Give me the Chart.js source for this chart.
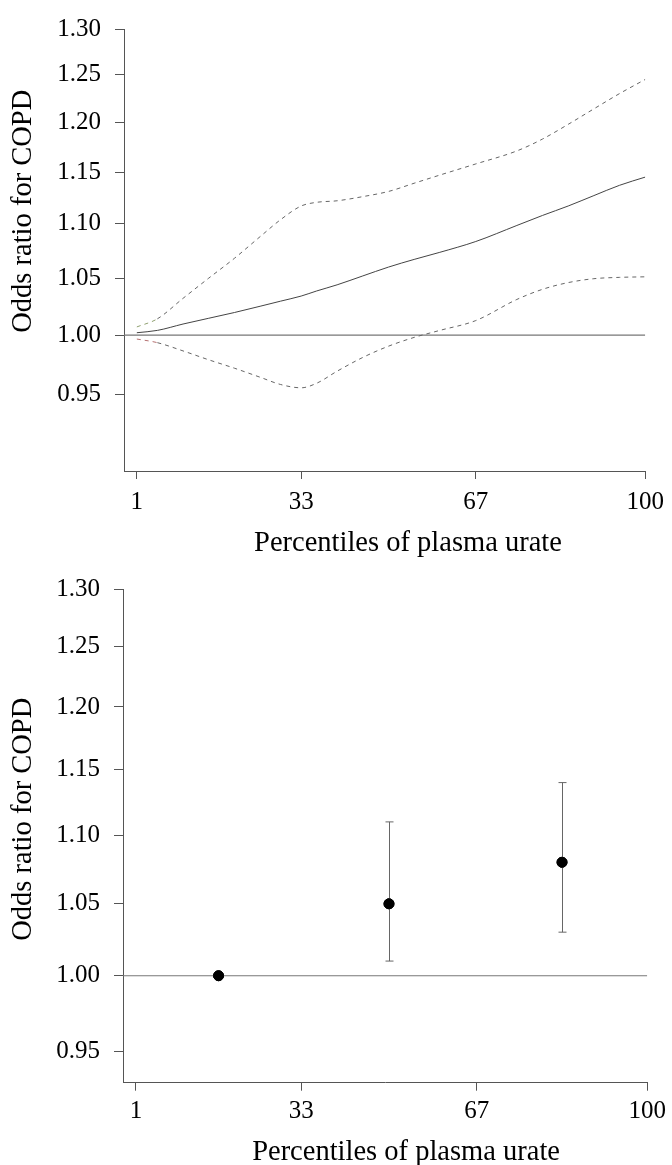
<!DOCTYPE html>
<html><head><meta charset="utf-8">
<script src="https://cdn.jsdelivr.net/npm/chart.js@4.4.1/dist/chart.umd.min.js"></script>
<style>
html,body{margin:0;padding:0;background:#fff;width:672px;height:1165px;overflow:hidden;}
#w1{position:absolute;left:0;top:0;width:672px;height:570px;}
#w2{position:absolute;left:0;top:560px;width:672px;height:605px;}
canvas{display:block;}
</style></head><body>
<div id="w1"><canvas id="c1" width="672" height="570"></canvas></div>
<div id="w2"><canvas id="c2" width="672" height="605"></canvas></div>
<script>
// ---- data ----
const percentiles = [1, 5, 10, 15, 20, 25, 29, 33, 36, 40, 45, 50, 55, 60, 67, 75, 80, 85, 90, 95, 100];
const orEstimate  = [1.002, 1.004, 1.0095, 1.0145, 1.0195, 1.025, 1.0295, 1.034, 1.0385, 1.044, 1.052, 1.060, 1.067, 1.0735, 1.0835, 1.0985, 1.108, 1.117, 1.127, 1.137, 1.145];
const orLower     = [0.9966, 0.9935, 0.9865, 0.979, 0.972, 0.9645, 0.9585, 0.9558, 0.9595, 0.9695, 0.981, 0.9905, 0.998, 1.004, 1.0125, 1.031, 1.040, 1.046, 1.0495, 1.0507, 1.0512];
const orUpper     = [1.007, 1.014, 1.032, 1.050, 1.068, 1.088, 1.104, 1.117, 1.1205, 1.122, 1.126, 1.131, 1.139, 1.147, 1.158, 1.171, 1.183, 1.198, 1.214, 1.230, 1.245];

const tertileMid  = [17, 50, 83.5];
const tertileOR   = [1.00, 1.05, 1.08];
const tertileLow  = [null, 1.01, 1.03];
const tertileHigh = [null, 1.11, 1.14];

const xTicks = [1, 33, 67, 100];
const xTickLabels = ['1', '33', '67', '100'];
const yTicks = [0.95, 1.00, 1.05, 1.10, 1.15, 1.20, 1.25, 1.30];
const yTickLabels = ['0.95', '1.00', '1.05', '1.10', '1.15', '1.20', '1.25', '1.30'];
const refValue = 1.00;
const xTitle = 'Percentiles of plasma urate';
const yTitle = 'Odds ratio for COPD';

// ---- helpers ----
const FAMILY = "'Liberation Serif', 'Times New Roman', Times, serif";
const AX = '#555';
const xMin = -1.5, xMax = 100;
const TICK_SIZE = 25, TITLE_SIZE = 28.5;

function xScaleCfg(height, pad) {
  return {
    type: 'linear', min: xMin, max: xMax, bounds: 'data',
    afterBuildTicks: s => { s.ticks = xTicks.map(v => ({ value: v })); },
    afterFit: s => { s.height = height; },
    ticks: { callback: v => xTickLabels[xTicks.indexOf(v)], font: { family: FAMILY, size: TICK_SIZE }, color: '#000', padding: pad, maxRotation: 0, autoSkip: false },
    grid: { drawOnChartArea: false, tickLength: 8, tickColor: AX, tickWidth: 1 },
    border: { display: true, color: AX, width: 1 },
    title: { display: false }
  };
}
function yScaleCfg(min, width) {
  return {
    type: 'logarithmic', min: min, max: 1.30, bounds: 'data',
    afterBuildTicks: s => { s.ticks = yTicks.map(v => ({ value: v })); },
    afterFit: s => { s.width = width; },
    ticks: { callback: v => { const i = yTicks.findIndex(t => Math.abs(t - v) < 1e-9); return i >= 0 ? yTickLabels[i] : ''; }, font: { family: FAMILY, size: TICK_SIZE }, color: '#000', padding: 14, autoSkip: false },
    grid: { drawOnChartArea: false, tickLength: 9, tickColor: AX, tickWidth: 1 },
    border: { display: true, color: AX, width: 1 },
    title: { display: false }
  };
}
// axis titles (R-style placement)
const axisTitlePlugin = {
  id: 'axisTitles',
  afterDraw(chart, args, opts) {
    const ctx = chart.ctx, ca = chart.chartArea;
    ctx.save();
    ctx.font = TITLE_SIZE + 'px ' + FAMILY;
    ctx.fillStyle = '#000';
    ctx.textAlign = 'center';
    // y title
    const yc = chart.scales.y.getPixelForValue(opts.yCenterValue);
    ctx.save();
    ctx.translate(opts.yTitleX, yc);
    ctx.rotate(-Math.PI / 2);
    ctx.textBaseline = 'middle';
    ctx.fillText(yTitle, 0, 0);
    ctx.restore();
    // x title
    const xc = chart.scales.x.getPixelForValue(opts.xCenterValue);
    ctx.textBaseline = 'alphabetic';
    ctx.fillText(xTitle, xc, ca.bottom + opts.xTitleOffset);
    ctx.restore();
  }
};
function refLineData() { return [{ x: xMin, y: refValue }, { x: xMax, y: refValue }]; }
function series(arr) { return percentiles.map((p, i) => ({ x: p, y: arr[i] })); }

// ---- top chart: spline ----
new Chart(document.getElementById('c1'), {
  type: 'line',
  data: {
    datasets: [
      { data: series(orEstimate), borderColor: '#444', borderWidth: 1, pointRadius: 0, cubicInterpolationMode: 'monotone' },
      { data: series(orUpper), borderColor: '#666', borderWidth: 1, borderDash: [4, 4], pointRadius: 0, cubicInterpolationMode: 'monotone',
        segment: { borderColor: c => c.p0DataIndex === 0 ? '#8fa070' : undefined } },
      { data: series(orLower), borderColor: '#666', borderWidth: 1, borderDash: [4, 4], pointRadius: 0, cubicInterpolationMode: 'monotone',
        segment: { borderColor: c => c.p0DataIndex === 0 ? '#b57070' : undefined } },
      { data: refLineData(), borderColor: '#777', borderWidth: 1.2, pointRadius: 0 }
    ]
  },
  options: {
    responsive: false, animation: false, devicePixelRatio: 1,
    layout: { padding: { top: 20, right: 23, left: 0, bottom: 0 } },
    plugins: { legend: { display: false }, tooltip: { enabled: false },
      axisTitles: { yTitleX: 24, yCenterValue: 1.112, xCenterValue: 53.8, xTitleOffset: 80 } },
    scales: { x: xScaleCfg(99, 8), y: yScaleCfg(0.89, 124) }
  },
  plugins: [axisTitlePlugin]
});

// ---- bottom chart: tertile ORs with 95% CI ----
const errorBarPlugin = {
  id: 'errorBars',
  afterDatasetsDraw(chart) {
    const xs = chart.scales.x, ys = chart.scales.y, ctx = chart.ctx;
    ctx.save();
    ctx.strokeStyle = '#666';
    ctx.lineWidth = 1;
    tertileMid.forEach((m, i) => {
      if (tertileLow[i] == null || tertileHigh[i] == null) return;
      const x = Math.round(xs.getPixelForValue(m)) + 0.5;
      const y1 = ys.getPixelForValue(tertileLow[i]);
      const y2 = ys.getPixelForValue(tertileHigh[i]);
      ctx.beginPath();
      ctx.moveTo(x, y1); ctx.lineTo(x, y2);
      ctx.moveTo(x - 4, y1); ctx.lineTo(x + 4, y1);
      ctx.moveTo(x - 4, y2); ctx.lineTo(x + 4, y2);
      ctx.stroke();
    });
    const meta = chart.getDatasetMeta(1);
    meta.data.forEach(pt => pt.draw(ctx, chart.chartArea));
    ctx.restore();
  }
};
new Chart(document.getElementById('c2'), {
  type: 'line',
  data: {
    datasets: [
      { data: refLineData(), borderColor: '#777', borderWidth: 1.2, pointRadius: 0 },
      { data: tertileMid.map((m, i) => ({ x: m, y: tertileOR[i] })), showLine: false, pointRadius: 5, pointBackgroundColor: '#000', pointBorderColor: '#000', pointBorderWidth: 1 }
    ]
  },
  options: {
    responsive: false, animation: false, devicePixelRatio: 1,
    layout: { padding: { top: 24, right: 21, left: 0, bottom: 0 } },
    plugins: { legend: { display: false }, tooltip: { enabled: false },
      axisTitles: { yTitleX: 24, yCenterValue: 1.112, xCenterValue: 53.3, xTitleOffset: 77.3 } },
    scales: { x: xScaleCfg(82.3, 6), y: yScaleCfg(0.93, 123) }
  },
  plugins: [axisTitlePlugin, errorBarPlugin]
});
</script>
</body></html>
